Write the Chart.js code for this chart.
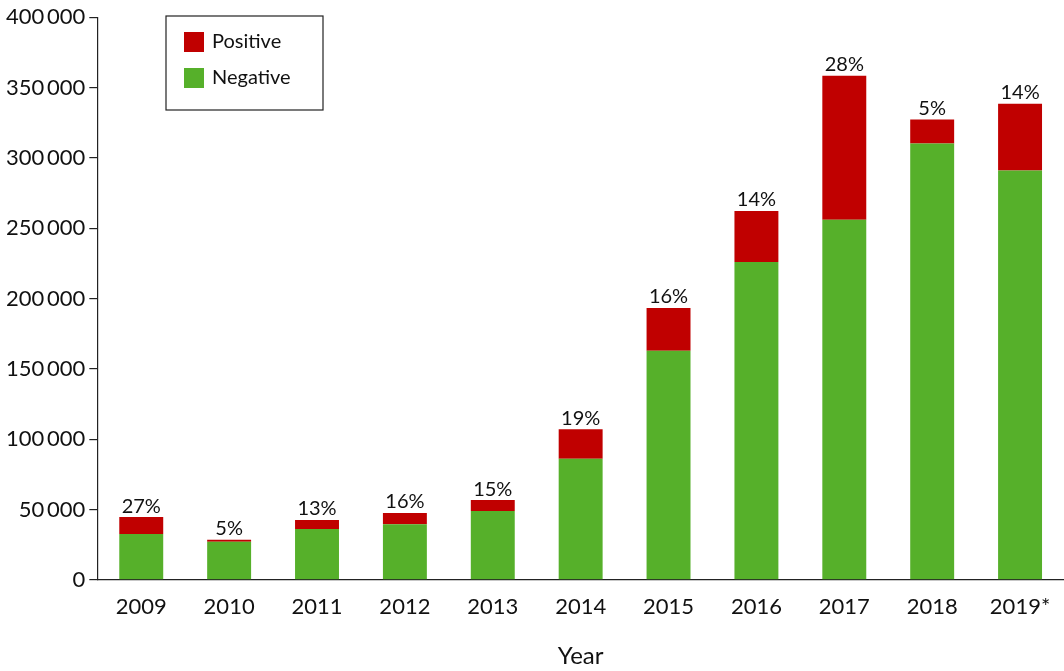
<!DOCTYPE html>
<html>
<head>
<meta charset="utf-8">
<script src="https://cdn.jsdelivr.net/npm/chart.js@4"></script>
<style>
  body { margin: 0; background: #fff; }
  #wrap { width: 1064px; height: 671px; }
</style>
</head>
<body>
<div id="wrap"><canvas id="chart"></canvas></div>
<script>
const years = ['2009', '2010', '2011', '2012', '2013', '2014', '2015', '2016', '2017', '2018', '2019*'];
const negative = [32600, 27000, 36100, 39500, 48900, 86000, 162900, 225900, 256000, 310200, 291000];
const positive = [12000, 1400, 6400, 8000, 7800, 21000, 30400, 36300, 102400, 17000, 47500];
const percentLabels = ['27%', '5%', '13%', '16%', '15%', '19%', '16%', '14%', '28%', '5%', '14%'];

const FONT = 'Lato, "Open Sans", sans-serif';
const RED = '#c00000';
const GREEN = '#56b02a';

// percentages above each stack + boxed legend in the top-left
const extras = {
    id: 'extras',
    afterDatasetsDraw(chart) {
        const ctx = chart.ctx;
        const top = chart.getDatasetMeta(1).data;
        ctx.save();
        ctx.fillStyle = '#111';
        ctx.font = '20px ' + FONT;
        ctx.textAlign = 'center';
        ctx.textBaseline = 'bottom';
        top.forEach((bar, i) => ctx.fillText(percentLabels[i], bar.x, bar.y - 1));

        const x0 = 166, y0 = 16, w = 157, h = 94;
        ctx.strokeStyle = '#222';
        ctx.lineWidth = 1.2;
        ctx.strokeRect(x0, y0, w, h);
        ctx.textAlign = 'left';
        ctx.textBaseline = 'middle';
        ctx.font = '20px ' + FONT;
        chart.data.datasets.slice().reverse().forEach((ds, i) => {
            const cy = y0 + 26 + i * 36;
            ctx.fillStyle = ds.backgroundColor;
            ctx.fillRect(x0 + 18, cy - 10, 20, 20);
            ctx.fillStyle = '#111';
            ctx.fillText(ds.label, x0 + 46, cy);
        });
        ctx.restore();
    }
};

new Chart(document.getElementById('chart'), {
    type: 'bar',
    data: {
        labels: years,
        datasets: [
            { label: 'Negative', data: negative, backgroundColor: GREEN },
            { label: 'Positive', data: positive, backgroundColor: RED }
        ]
    },
    options: {
        responsive: true,
        maintainAspectRatio: false,
        animation: false,
        layout: { padding: { top: 10, right: 0, left: 2, bottom: 0 } },
        datasets: { bar: { barPercentage: 0.5, categoryPercentage: 1 } },
        plugins: { legend: { display: false }, tooltip: { enabled: false } },
        scales: {
            x: {
                stacked: true,
                grid: { display: false },
                border: { color: '#222', width: 1.2 },
                ticks: { color: '#111', font: { family: FONT, size: 22 }, padding: 6 },
                title: { display: true, text: 'Year', color: '#111', font: { family: FONT, size: 24 }, padding: { top: 16, bottom: 0 } }
            },
            y: {
                stacked: true,
                min: 0,
                max: 400000,
                grid: { drawOnChartArea: false, tickLength: 8, color: '#222', lineWidth: 1.2 },
                border: { color: '#222', width: 1.2 },
                ticks: {
                    stepSize: 50000,
                    color: '#111',
                    padding: 4,
                    font: { family: FONT, size: 22 },
                    callback: v => String(v).replace(/\B(?=(\d{3})+(?!\d))/g, '\u2009')
                }
            }
        }
    },
    plugins: [extras]
});
</script>
</body>
</html>
